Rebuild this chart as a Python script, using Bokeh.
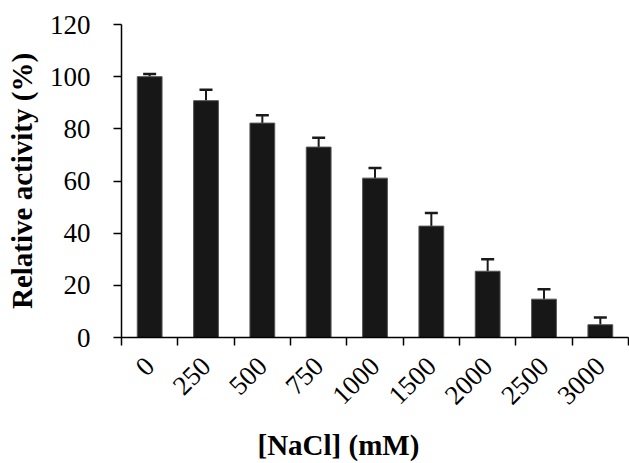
import math
from bokeh.plotting import figure
from bokeh.models import FixedTicker, Range1d, ColumnDataSource, Whisker, TeeHead, Title
from bokeh.embed import file_html
from bokeh.resources import INLINE

categories = ["0", "250", "500", "750", "1000", "1500", "2000", "2500", "3000"]
activity = [100.0, 90.8, 82.2, 73.0, 61.1, 42.7, 25.4, 14.7, 4.9]
errors = [1.0, 4.2, 3.0, 3.6, 3.9, 5.0, 4.6, 3.8, 2.8]
y_ticks = [0, 20, 40, 60, 80, 100, 120]

xs = [i + 0.5 for i in range(len(categories))]
src = ColumnDataSource(dict(
    x=xs, top=activity,
    upper=[a + e for a, e in zip(activity, errors)],
))

FONT = "'Liberation Serif', 'Times New Roman', serif"

p = figure(output_backend="svg", toolbar_location=None,
           frame_width=507, frame_height=313,
           min_border_left=121, min_border_right=1, min_border_top=24, min_border_bottom=126,
           x_range=Range1d(0, len(categories)), y_range=Range1d(0, 120))

p.vbar(x="x", top="top", width=0.44, bottom=0, source=src,
       fill_color="#171717", line_color="#555555", line_width=1)

w = Whisker(base="x", lower="top", upper="upper", source=src, dimension="height",
            line_color="#1a1a1a", line_width=2,
            upper_head=TeeHead(size=13, line_color="#1a1a1a", line_width=2.5),
            lower_head=None)
p.add_layout(w)

p.xgrid.visible = False
p.ygrid.visible = False
p.outline_line_color = None
p.background_fill_color = "white"
p.border_fill_color = "white"

xt = FixedTicker(ticks=xs, minor_ticks=list(range(len(categories) + 1)))
p.xaxis.ticker = xt
p.xaxis.major_label_overrides = {x: c for x, c in zip(xs, categories)}
p.xaxis.major_tick_line_color = None
p.xaxis.minor_tick_line_color = "black"
p.xaxis.minor_tick_line_width = 1.5
p.xaxis.minor_tick_out = 8
p.xaxis.minor_tick_in = 0
p.xaxis.major_tick_out = 8
p.xaxis.major_label_orientation = math.pi / 4
p.xaxis.major_label_standoff = 16

p.yaxis.ticker = FixedTicker(ticks=y_ticks)
p.yaxis.minor_tick_line_color = None
p.yaxis.major_tick_out = 8
p.yaxis.major_tick_in = 0
p.yaxis.major_tick_line_width = 1.5
p.yaxis.major_label_standoff = 23
p.yaxis.axis_label = "Relative activity (%)"
p.yaxis.axis_label_standoff = 9

for ax in (p.xaxis, p.yaxis):
    ax.axis_line_color = "black"
    ax.axis_line_width = 1.5
    ax.major_label_text_font = FONT
    ax.major_label_text_font_size = "27px"
    ax.major_label_text_color = "black"
    ax.axis_label_text_font = FONT
    ax.axis_label_text_font_size = "29px"
    ax.axis_label_text_font_style = "bold"
    ax.axis_label_text_color = "black"

xtitle = Title(text="[NaCl] (mM)", align="left", offset=136, standoff=23,
               vertical_align="bottom",
               text_font=FONT, text_font_size="29px", text_font_style="bold",
               text_color="black")
p.add_layout(xtitle, "below")

open("out.html", "w").write(file_html(p, INLINE))
